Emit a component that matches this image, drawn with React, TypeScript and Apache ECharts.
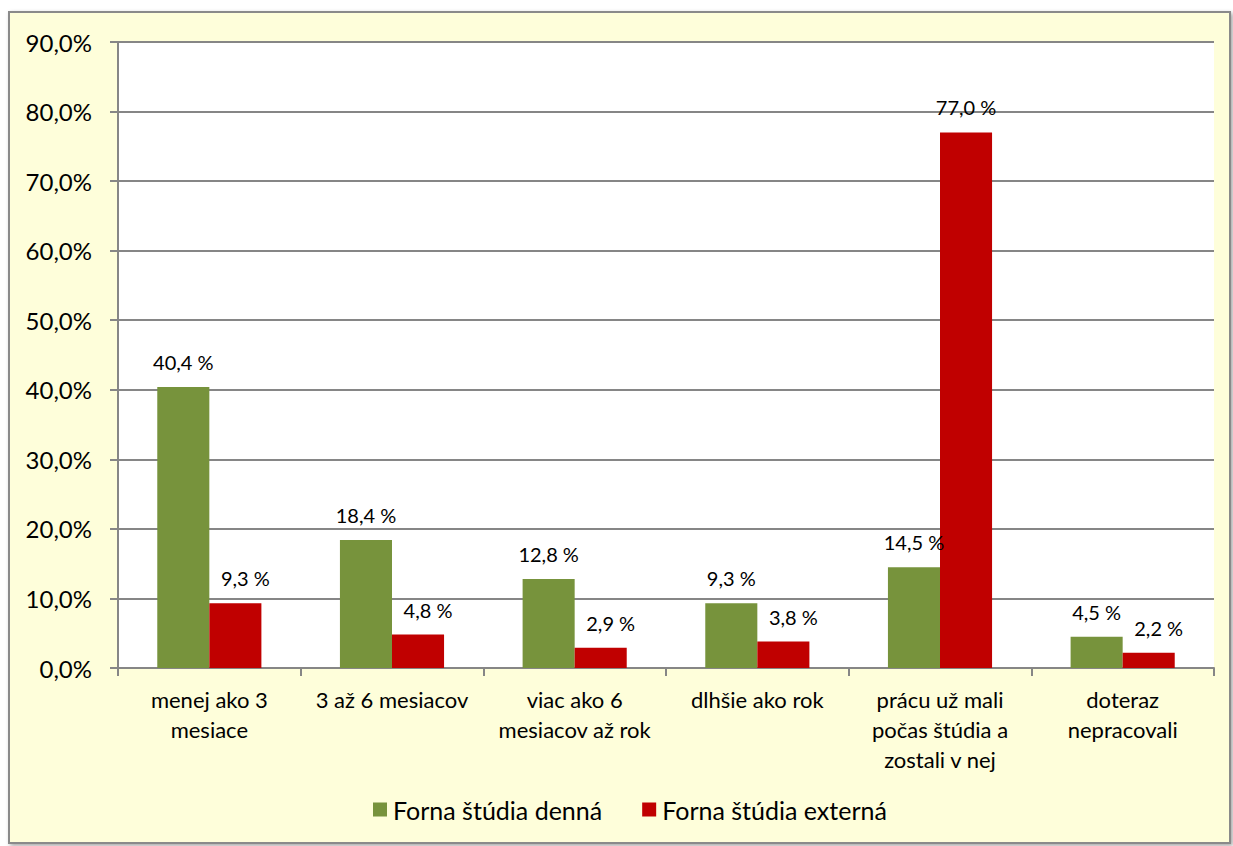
import React, { useEffect, useRef } from "react";
import * as echarts from "echarts";

const categories = [
  "menej ako 3\nmesiace",
  "3 až 6 mesiacov",
  "viac ako 6\nmesiacov až rok",
  "dlhšie ako rok",
  "prácu už mali\npočas štúdia a\nzostali v nej",
  "doteraz\nnepracovali",
];
const seriesNames = ["Forna štúdia denná", "Forna štúdia externá"];
const dennaValues = [40.4, 18.4, 12.8, 9.3, 14.5, 4.5];
const externaValues = [9.3, 4.8, 2.9, 3.8, 77.0, 2.2];
const yMin = 0;
const yMax = 90;
const yInterval = 10;

const fmt = (v: number) => v.toFixed(1).replace(".", ",");
const FONT = "Lato";

export default function App() {
  const ref = useRef<HTMLDivElement>(null);
  useEffect(() => {
    if (!ref.current) return;
    const chart = echarts.init(ref.current, null, { renderer: "svg" });
    const labelStyle = {
      show: true,
      position: "top" as const,
      distance: 15,
      fontFamily: FONT,
      fontSize: 20,
      color: "#000",
      formatter: (p: any) => fmt(p.value) + " %",
    };
    const maxExt = Math.max(...externaValues);
    chart.setOption({
      animation: false,
      backgroundColor: "#ffffff",
      graphic: [
        {
          type: "rect",
          z: -10,
          silent: true,
          shape: { x: 9, y: 12, width: 1221, height: 831 },
          style: {
            fill: "#FEFEDA",
            stroke: "#8a8a8a",
            lineWidth: 2,
            shadowBlur: 4,
            shadowOffsetX: 2,
            shadowOffsetY: 2,
            shadowColor: "rgba(0,0,0,0.35)",
          },
        },
      ],
      grid: {
        left: 118,
        top: 42,
        width: 1096,
        height: 626,
        show: true,
        backgroundColor: "#ffffff",
        borderWidth: 0,
      },
      legend: {
        data: seriesNames,
        bottom: 19,
        left: 368,
        itemWidth: 14,
        itemHeight: 14,
        itemGap: 40,
        icon: "rect",
        textStyle: { fontFamily: FONT, fontSize: 25, color: "#000", padding: [0, 0, 0, 1] },
      },
      xAxis: {
        type: "category",
        data: categories,
        axisLine: { lineStyle: { color: "#868686", width: 2 } },
        axisTick: { show: true, length: 8, lineStyle: { color: "#868686", width: 2 } },
        axisLabel: {
          fontFamily: FONT,
          fontSize: 22,
          color: "#000",
          lineHeight: 30,
          margin: 16,
          interval: 0,
        },
      },
      yAxis: {
        type: "value",
        min: yMin,
        max: yMax,
        interval: yInterval,
        axisLine: { show: true, lineStyle: { color: "#868686", width: 2 } },
        axisTick: { show: true, length: 8, lineStyle: { color: "#868686", width: 2 } },
        splitLine: { lineStyle: { color: "#868686", width: 2 } },
        axisLabel: {
          fontFamily: FONT,
          fontSize: 24,
          color: "#000",
          margin: 26,
          formatter: (v: number) => fmt(v) + "%",
        },
      },
      series: [
        {
          name: seriesNames[0],
          type: "bar",
          data: dennaValues,
          barGap: "0%",
          barCategoryGap: "43%",
          itemStyle: { color: "#77933C" },
          label: labelStyle,
        },
        {
          name: seriesNames[1],
          type: "bar",
          data: externaValues.map((v) =>
            v === maxExt ? { value: v, label: { offset: [0, 0] } } : v
          ),
          barGap: "0%",
          barCategoryGap: "43%",
          itemStyle: { color: "#C00000" },
          label: { ...labelStyle, offset: [10, 0] },
        },
      ],
    });
    return () => chart.dispose();
  }, []);
  return (
    <div
      ref={ref}
      style={{ position: "fixed", left: 0, top: 0, width: 1233, height: 846 }}
    />
  );
}
